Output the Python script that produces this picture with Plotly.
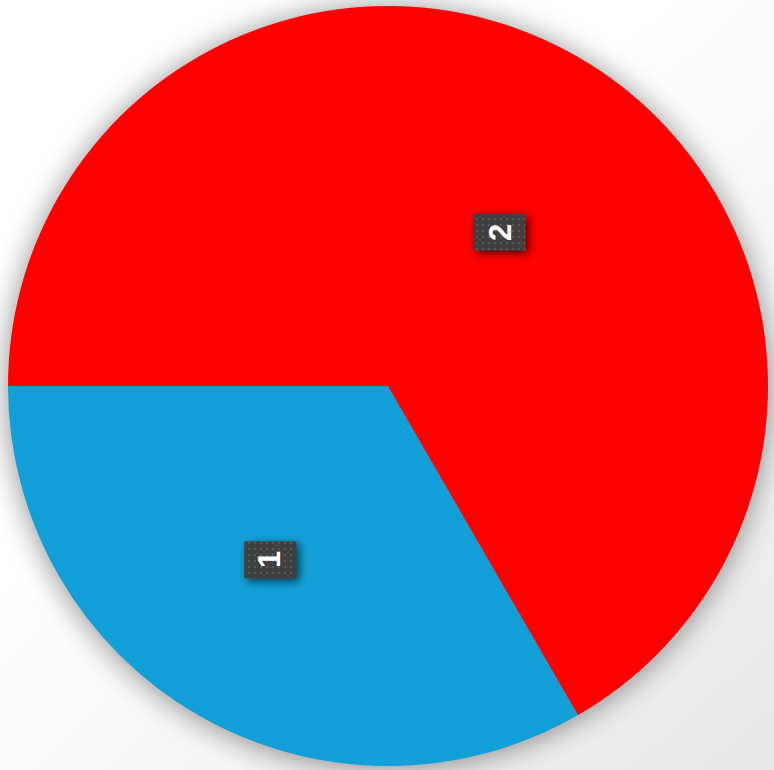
import base64
import math
import plotly.graph_objects as go

# Slice data
labels = ["1", "2"]
values = [1, 2]
colors = ["#129fd7", "#ff0000"]

W, H = 774, 770
CX, CY, R = 388, 386, 380          # pie centre and radius in pixels
START = 270                        # first slice ends at 9 o'clock, slices run counter-clockwise

# Label placement (style constants)
LABEL_R = 200
LABEL_ANGLE_SHIFT = 5
LABEL_DX, LABEL_DY = -3, 10
BOX_W, BOX_H = 52, 37

total = sum(values)
label_px = []
acc = 0
for v in values:
    mid = START - (acc + v / 2) / total * 360 + LABEL_ANGLE_SHIFT
    a = math.radians(mid)
    label_px.append((CX + LABEL_R * math.sin(a) + LABEL_DX,
                     CY - LABEL_R * math.cos(a) + LABEL_DY))
    acc += v

# plotly's counter-clockwise pies place the first slice clockwise of `rotation`
pie_rotation = START - values[0] / total * 360


def svg_uri(body, defs=""):
    svg = (f'<svg xmlns="http://www.w3.org/2000/svg" width="{W}" height="{H}" '
           f'viewBox="0 0 {W} {H}"><defs>{defs}</defs>{body}</svg>')
    return "data:image/svg+xml;base64," + base64.b64encode(svg.encode()).decode()


# Background: soft grey gradient plus the pie's drop shadow
bg_defs = (
    '<linearGradient id="bg" x1="0.2" y1="0.1" x2="1" y2="1">'
    '<stop offset="0.3" stop-color="#ffffff"/><stop offset="1" stop-color="#e8e8e8"/>'
    '</linearGradient>'
    '<filter id="sh" x="-20%" y="-20%" width="140%" height="140%">'
    '<feGaussianBlur stdDeviation="15"/></filter>'
)
bg_body = (
    f'<rect width="{W}" height="{H}" fill="url(#bg)"/>'
    f'<circle cx="{CX}" cy="{CY + 2}" r="{R}" fill="#000" fill-opacity="0.45" filter="url(#sh)"/>'
)

# Label boxes: shadow, dark fill and dotted texture
box_defs = (
    '<filter id="bs" x="-50%" y="-50%" width="200%" height="200%">'
    '<feGaussianBlur stdDeviation="4"/></filter>'
    '<pattern id="dots" width="6" height="6" patternUnits="userSpaceOnUse">'
    '<rect width="6" height="6" fill="#404040"/>'
    '<rect x="2" y="2" width="2" height="2" fill="#565656"/></pattern>'
)
box_body = ""
for x, y in label_px:
    bx, by = x - BOX_W / 2, y - BOX_H / 2
    box_body += (
        f'<rect x="{bx + 3}" y="{by + 3}" width="{BOX_W}" height="{BOX_H}" '
        f'fill="#000" fill-opacity="0.65" filter="url(#bs)"/>'
        f'<rect x="{bx}" y="{by}" width="{BOX_W}" height="{BOX_H}" fill="url(#dots)"/>'
    )

fig = go.Figure(
    go.Pie(
        labels=labels,
        values=values,
        sort=False,
        direction="counterclockwise",
        rotation=pie_rotation,
        marker=dict(colors=colors, line=dict(width=0)),
        textinfo="none",
        hoverinfo="label+value",
        showlegend=False,
        domain=dict(x=[(CX - R) / W, (CX + R) / W], y=[1 - (CY + R) / H, 1 - (CY - R) / H]),
    )
)

fig.add_layout_image(
    source=svg_uri(bg_body, bg_defs), xref="paper", yref="paper",
    x=0, y=1, sizex=1, sizey=1, sizing="stretch", xanchor="left", yanchor="top", layer="below",
)
fig.add_layout_image(
    source=svg_uri(box_body, box_defs), xref="paper", yref="paper",
    x=0, y=1, sizex=1, sizey=1, sizing="stretch", xanchor="left", yanchor="top", layer="above",
)

for lab, (x, y) in zip(labels, label_px):
    fig.add_annotation(
        x=x / W, y=1 - y / H, xref="paper", yref="paper",
        text=f"<b>{lab}</b>", showarrow=False, textangle=-90,
        font=dict(family="Liberation Sans, Arial, sans-serif", size=31, color="#ffffff"),
        xanchor="center", yanchor="middle",
    )

fig.update_layout(
    width=W, height=H,
    margin=dict(l=0, r=0, t=0, b=0),
    paper_bgcolor="#ffffff",
)

fig.write_html("out.html")
